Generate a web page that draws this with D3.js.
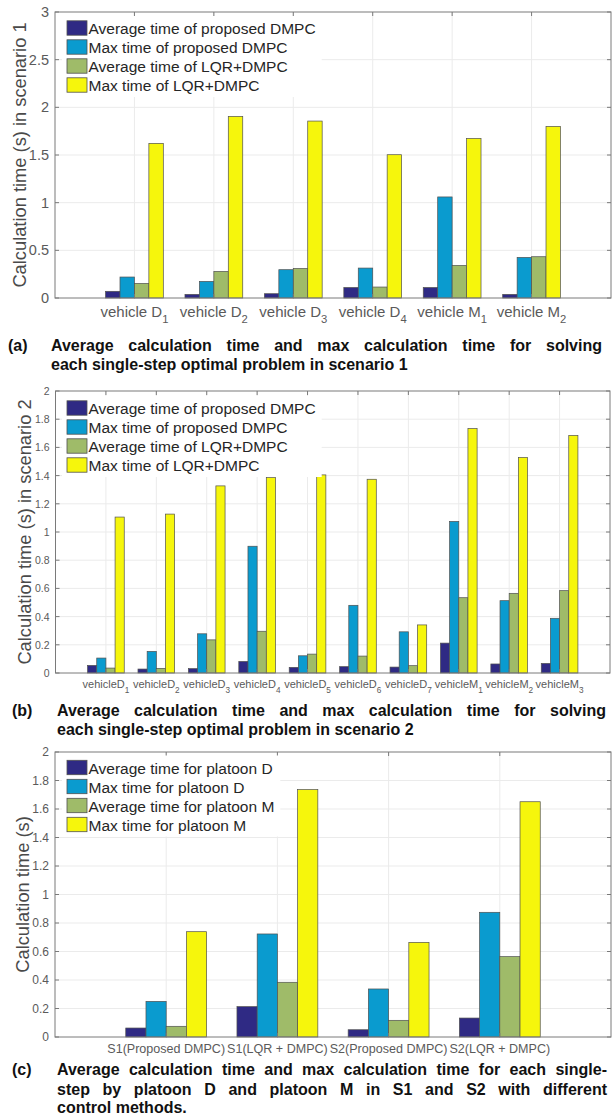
<!DOCTYPE html>
<html>
<head>
<meta charset="utf-8">
<script src="https://cdn.jsdelivr.net/npm/d3@7"></script>
<style>
  html, body { margin: 0; padding: 0; background: #fff; }
  svg { display: block; }
  text { font-family: "Liberation Sans", Arial, Helvetica, sans-serif; }
</style>
</head>
<body>
<svg id="fig" width="613" height="1117"></svg>
<script>
// ---------- data: scenario 1 (panel a) ----------
const catsA = ["vehicle D_1", "vehicle D_2", "vehicle D_3", "vehicle D_4", "vehicle M_1", "vehicle M_2"];
const avgDmpcA = [0.070, 0.038, 0.045, 0.110, 0.110, 0.038];
const maxDmpcA = [0.220, 0.174, 0.297, 0.314, 1.060, 0.426];
const avgLqrA  = [0.153, 0.279, 0.310, 0.115, 0.342, 0.433];
const maxLqrA  = [1.622, 1.905, 1.856, 1.503, 1.674, 1.800];
const ticksA = [0, 0.5, 1, 1.5, 2, 2.5, 3];
const tickLabelsA = ["0", "0.5", "1", "1.5", "2", "2.5", "3"];

// ---------- data: scenario 2 (panel b) ----------
const catsB = ["vehicleD_1", "vehicleD_2", "vehicleD_3", "vehicleD_4", "vehicleD_5",
               "vehicleD_6", "vehicleD_7", "vehicleM_1", "vehicleM_2", "vehicleM_3"];
const avgDmpcB = [0.054, 0.028, 0.031, 0.082, 0.040, 0.045, 0.042, 0.212, 0.064, 0.068];
const maxDmpcB = [0.106, 0.153, 0.278, 0.899, 0.122, 0.480, 0.292, 1.075, 0.513, 0.388];
const avgLqrB  = [0.035, 0.033, 0.235, 0.296, 0.134, 0.120, 0.052, 0.534, 0.565, 0.584];
const maxLqrB  = [1.106, 1.127, 1.327, 1.386, 1.405, 1.374, 0.341, 1.734, 1.529, 1.685];
const ticksB = [0, 0.2, 0.4, 0.6, 0.8, 1, 1.2, 1.4, 1.6, 1.8, 2];
const tickLabelsB = ["0", "0.2", "0.4", "0.6", "0.8", "1", "1.2", "1.4", "1.6", "1.8", "2"];

// ---------- data: platoons per method (panel c) ----------
const catsC = ["S1(Proposed DMPC)", "S1(LQR + DMPC)", "S2(Proposed DMPC)", "S2(LQR + DMPC)"];
const avgPlatoonD = [0.063, 0.213, 0.051, 0.133];
const maxPlatoonD = [0.250, 0.723, 0.337, 0.875];
const avgPlatoonM = [0.075, 0.384, 0.117, 0.564];
const maxPlatoonM = [0.739, 1.736, 0.664, 1.651];
const ticksC = ticksB;
const tickLabelsC = tickLabelsB;

const legendAB = ["Average time of proposed DMPC", "Max time of proposed DMPC",
                  "Average time of LQR+DMPC", "Max time of LQR+DMPC"];
const legendC = ["Average time for platoon D", "Max time for platoon D",
                 "Average time for platoon M", "Max time for platoon M"];
const barColors = ["#2f2a84", "#0a9bcf", "#9fbb69", "#f6f60c"];

// ---------- drawing ----------
const svg = d3.select("#fig");
svg.append("rect").attr("width", 613).attr("height", 1117).attr("fill", "#fff");

const AXIS = "#7a7a7a", GRID = "#ebebeb", TICKTXT = "#5a5a5a", LABEL = "#4a4a4a";

function drawPanel(p) {
  const g = svg.append("g");
  const n = p.cats.length;
  const x = d3.scaleLinear().domain([0, n + 1]).range([p.left, p.right]);
  const y = d3.scaleLinear().domain([p.ticks[0], p.ticks[p.ticks.length - 1]]).range([p.bottom, p.top]);
  const k = p.series.length;
  const groupW = Math.min(0.8, k / (k + 1.5));
  const barW = groupW / k;
  const pos = d3.range(1, n + 1);

  // grid
  g.selectAll(".hg").data(p.ticks.slice(1, -1)).join("line")
    .attr("x1", p.left).attr("x2", p.right)
    .attr("y1", d => y(d)).attr("y2", d => y(d))
    .attr("stroke", GRID).attr("stroke-width", 1);
  g.selectAll(".vg").data(pos).join("line")
    .attr("x1", d => x(d)).attr("x2", d => x(d))
    .attr("y1", p.top).attr("y2", p.bottom)
    .attr("stroke", GRID).attr("stroke-width", 1);

  // bars
  p.series.forEach((vals, si) => {
    g.append("g").selectAll("rect").data(vals).join("rect")
      .attr("x", (v, i) => x(pos[i] - groupW / 2 + si * barW))
      .attr("width", x(barW) - x(0))
      .attr("y", v => y(v))
      .attr("height", v => y(0) - y(v))
      .attr("fill", barColors[si])
      .attr("stroke", "#505050").attr("stroke-width", 0.7);
  });

  // box with inward ticks on all sides
  g.append("rect").attr("x", p.left).attr("y", p.top)
    .attr("width", p.right - p.left).attr("height", p.bottom - p.top)
    .attr("fill", "none").attr("stroke", AXIS).attr("stroke-width", 1);
  const tl = 4;
  p.ticks.forEach(t => {
    g.append("line").attr("x1", p.left).attr("x2", p.left + tl).attr("y1", y(t)).attr("y2", y(t)).attr("stroke", AXIS);
    g.append("line").attr("x1", p.right).attr("x2", p.right - tl).attr("y1", y(t)).attr("y2", y(t)).attr("stroke", AXIS);
  });
  pos.forEach(d => {
    g.append("line").attr("x1", x(d)).attr("x2", x(d)).attr("y1", p.bottom).attr("y2", p.bottom - tl).attr("stroke", AXIS);
    g.append("line").attr("x1", x(d)).attr("x2", x(d)).attr("y1", p.top).attr("y2", p.top + tl).attr("stroke", AXIS);
  });

  // y tick labels
  g.selectAll(".yt").data(p.ticks).join("text")
    .attr("x", p.left - 6).attr("y", d => y(d))
    .attr("text-anchor", "end").attr("dominant-baseline", "central")
    .attr("font-size", p.ytickSize).attr("fill", TICKTXT)
    .text((d, i) => p.tickLabels[i]);

  // y axis title
  g.append("text")
    .attr("transform", `translate(${p.ylabelX},${(p.top + p.bottom) / 2}) rotate(-90)`)
    .attr("text-anchor", "middle").attr("dominant-baseline", "central")
    .attr("font-size", 18.3).attr("fill", LABEL)
    .text(p.ylabel);

  // x tick labels (with optional subscript after "_")
  p.cats.forEach((c, i) => {
    const parts = c.split("_");
    const t = g.append("text")
      .attr("transform", `translate(${x(pos[i])},${p.xlabelY}) scale(${p.xScaleX || 1},1)`)
      .attr("text-anchor", "middle")
      .attr("font-size", p.xtickSize).attr("fill", TICKTXT);
    t.append("tspan").text(parts[0]);
    if (parts[1]) {
      t.append("tspan").attr("dy", p.xtickSize * 0.42)
        .attr("font-size", p.xtickSize * 0.75).text(parts[1]);
    }
  });

  // legend
  const lg = g.append("g");
  const bg = lg.append("rect").attr("fill", "#fff");
  let maxW = 0;
  p.legend.forEach((name, i) => {
    const cy = p.legendY + i * 19;
    lg.append("rect").attr("x", 67).attr("y", cy - 7.2).attr("width", 20).attr("height", 14.4)
      .attr("fill", barColors[i]).attr("stroke", "#505050").attr("stroke-width", 0.8);
    const t = lg.append("text").attr("x", 88.5).attr("y", cy + 0.5)
      .attr("dominant-baseline", "central").attr("font-size", 15.5).attr("fill", "#262626")
      .text(name);
    maxW = Math.max(maxW, t.node().getComputedTextLength());
  });
  bg.attr("x", 62).attr("y", p.legendY - 12).attr("width", 88.5 + maxW + 6 - 62)
    .attr("height", 3 * 19 + 24);
}

// captions with justified lines
function caption(tag, lines, tagX, x0, x1, baselines) {
  const g = svg.append("g").attr("font-weight", "bold").attr("font-size", 16).attr("fill", "#111");
  g.append("text").attr("x", tagX).attr("y", baselines[0]).text(tag);
  lines.forEach((ln, li) => {
    const words = ln.text.split(" ");
    const nodes = words.map(w => g.append("text").attr("y", baselines[li]).text(w));
    const widths = nodes.map(nd => nd.node().getComputedTextLength());
    const total = d3.sum(widths);
    const space = 16 * 0.278;
    const gap = ln.justify ? (x1 - x0 - total) / (words.length - 1) : space;
    let cx = x0;
    nodes.forEach((nd, i) => { nd.attr("x", cx); cx += widths[i] + gap; });
  });
}

drawPanel({
  left: 55, right: 611, top: 12, bottom: 298,
  cats: catsA, series: [avgDmpcA, maxDmpcA, avgLqrA, maxLqrA],
  ticks: ticksA, tickLabels: tickLabelsA, ytickSize: 14.5,
  ylabel: "Calculation time (s) in scenario 1", ylabelX: 19,
  xtickSize: 15, xlabelY: 317, legend: legendAB, legendY: 28
});
caption("(a)", [
  { text: "Average calculation time and max calculation time for solving", justify: true },
  { text: "each single-step optimal problem in scenario 1", justify: false }
], 8, 51, 602, [351, 370]);

drawPanel({
  left: 55.5, right: 610, top: 391, bottom: 673,
  cats: catsB, series: [avgDmpcB, maxDmpcB, avgLqrB, maxLqrB],
  ticks: ticksB, tickLabels: tickLabelsB, ytickSize: 10.5,
  ylabel: "Calculation time (s) in scenario 2", ylabelX: 24,
  xtickSize: 11, xlabelY: 688, legend: legendAB, legendY: 408
});
caption("(b)", [
  { text: "Average calculation time and max calculation time for solving", justify: true },
  { text: "each single-step optimal problem in scenario 2", justify: false }
], 12, 57, 606, [716, 735]);

drawPanel({
  left: 55, right: 611, top: 752, bottom: 1037,
  cats: catsC, series: [avgPlatoonD, maxPlatoonD, avgPlatoonM, maxPlatoonM],
  ticks: ticksC, tickLabels: tickLabelsC, ytickSize: 12,
  ylabel: "Calculation time (s)", ylabelX: 22,
  xtickSize: 13.5, xScaleX: 0.93, xlabelY: 1053, legend: legendC, legendY: 767.5
});
caption("(c)", [
  { text: "Average calculation time and max calculation time for each single-", justify: true },
  { text: "step by platoon D and platoon M in S1 and S2 with different", justify: true },
  { text: "control methods.", justify: false }
], 12, 57, 607, [1075, 1094.5, 1113]);
</script>
</body>
</html>
